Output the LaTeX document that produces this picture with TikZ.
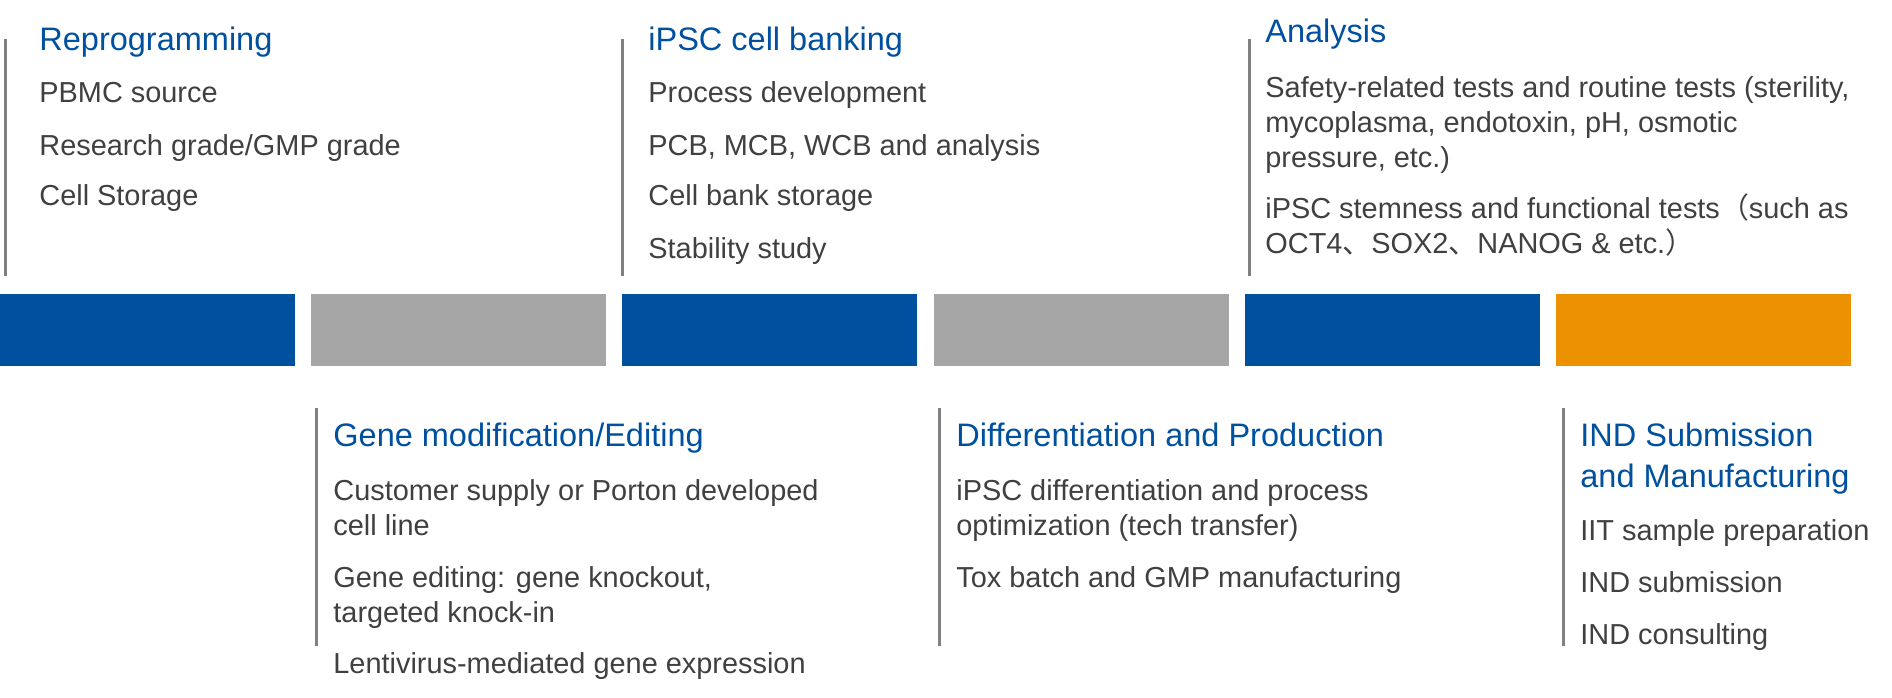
\documentclass[tikz,border=0pt]{standalone}
\usepackage{fontspec}
\setmainfont{Liberation Sans}
\newfontfamily\cjk{Noto Sans CJK SC}
\definecolor{barblue}{HTML}{0050A0}
\definecolor{bargray}{HTML}{A6A6A6}
\definecolor{barorange}{HTML}{EC9200}
\definecolor{txtgray}{HTML}{404040}
\definecolor{rulegray}{HTML}{808080}
\tikzset{
  head/.style={anchor=base west, inner sep=0pt, align=left, text=barblue, font=\fontsize{16.25}{20.5}\selectfont},
  entry/.style={anchor=base west, inner sep=0pt, align=left, text=txtgray, font=\fontsize{14.45}{17.5}\selectfont},
  rule/.style={draw=rulegray, line width=1.5pt}
}
\begin{document}
\begin{tikzpicture}[x=0.5pt, y=-0.5pt]
    \useasboundingbox (0,0) rectangle (1892,697);

    %timeline bars
    \fill[barblue] (0,294) rectangle (295,366);
    \fill[bargray] (311,294) rectangle (606,366);
    \fill[barblue] (622,294) rectangle (917,366);
    \fill[bargray] (934,294) rectangle (1229,366);
    \fill[barblue] (1245,294) rectangle (1540,366);
    \fill[barorange] (1556,294) rectangle (1851,366);

    %separators above and below
    \draw[rule] (5,39) -- (5,276);
    \draw[rule] (622,39) -- (622,276);
    \draw[rule] (1249,39) -- (1249,276);
    \draw[rule] (316,408) -- (316,646);
    \draw[rule] (939,408) -- (939,646);
    \draw[rule] (1563,408) -- (1563,646);

    %Reprogramming (multi-line nodes sit on their last baseline)
    \node[head] (rep) at (39,50) {Reprogramming};
    \node[entry] (rep1) at (39,102) {PBMC source};
    \node[entry] (rep2) at (39,155) {Research grade/GMP grade};
    \node[entry] (rep3) at (39,205) {Cell Storage};

    %iPSC cell banking
    \node[head] (bank) at (648,50) {iPSC cell banking};
    \node[entry] (bank1) at (648,102) {Process development};
    \node[entry] (bank2) at (648,155) {PCB, MCB, WCB and analysis};
    \node[entry] (bank3) at (648,205) {Cell bank storage};
    \node[entry] (bank4) at (648,258) {Stability study};

    %Analysis
    \node[head] (ana) at (1265,42) {Analysis};
    \node[entry] (ana1) at (1265,167) {Safety-related tests and routine tests (sterility,\\mycoplasma, endotoxin, pH, osmotic\\pressure, etc.)};
    \node[entry] (ana2) at (1265,253) {iPSC stemness and functional tests{\cjk （}such as\\OCT4{\cjk 、}SOX2{\cjk 、}NANOG \& etc.{\cjk ）}};

    %Gene modification/Editing
    \node[head] (gene) at (333,446) {Gene modification/Editing};
    \node[entry] (gene1) at (333,535) {Customer supply or Porton developed\\cell line};
    \node[entry] (gene2) at (333,622) {Gene editing: gene knockout,\\targeted knock-in};
    \node[entry] (gene3) at (333,673) {Lentivirus-mediated gene expression};

    %Differentiation and Production
    \node[head] (diff) at (956,446) {Differentiation and Production};
    \node[entry] (diff1) at (956,535) {iPSC differentiation and process\\optimization (tech transfer)};
    \node[entry] (diff2) at (956,587) {Tox batch and GMP manufacturing};

    %IND Submission and Manufacturing
    \node[head] (ind) at (1580,487) {IND Submission\\and Manufacturing};
    \node[entry] (ind1) at (1580,540) {IIT sample preparation};
    \node[entry] (ind2) at (1580,592) {IND submission};
    \node[entry] (ind3) at (1580,644) {IND consulting};
\end{tikzpicture}
\end{document}
